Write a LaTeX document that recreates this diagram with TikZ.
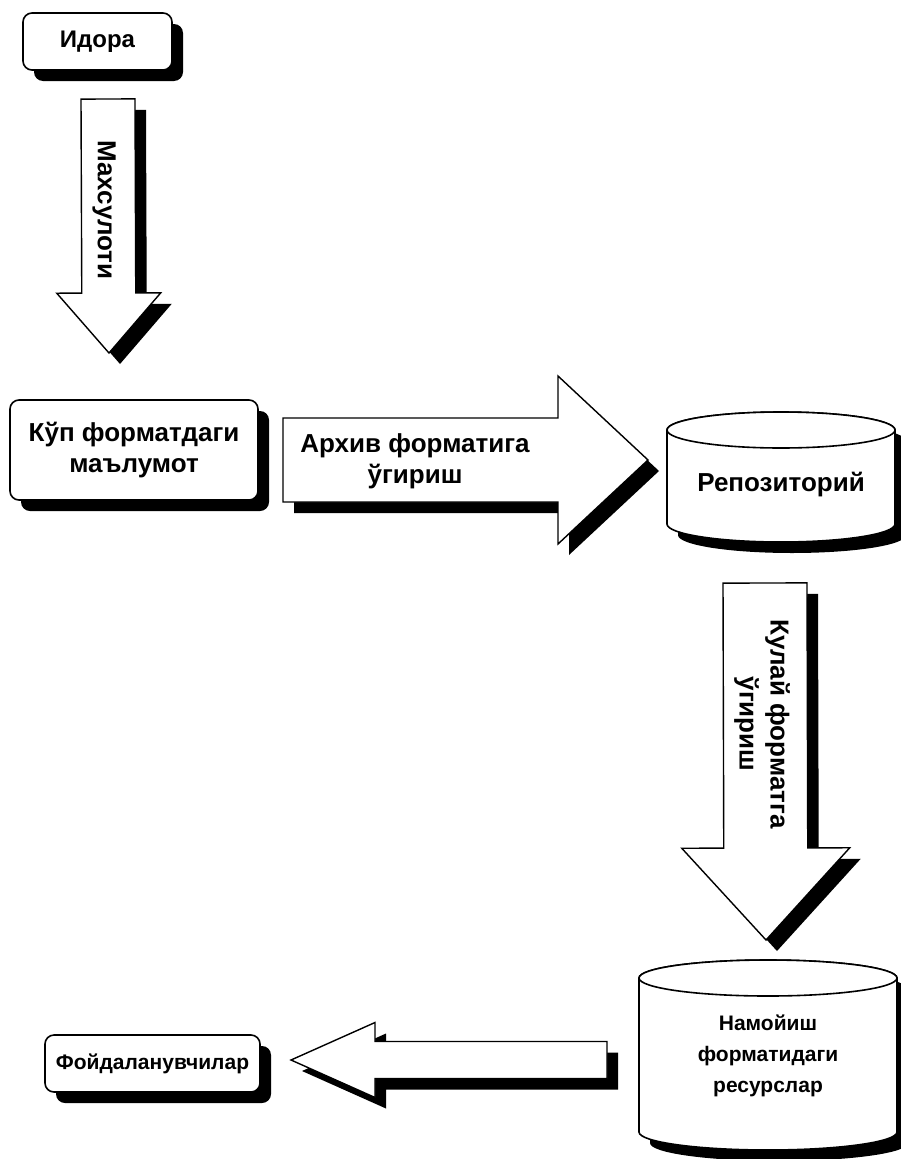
\documentclass[tikz,border=0pt]{standalone}
\usepackage{fontspec}
\setmainfont{Liberation Sans}
\usetikzlibrary{calc, shadows}

\newcommand{\blockarrow}[5]{%
  \coordinate (hb) at ($(#2)!#5!(#1)$);
  \draw[barrow] ($(#1)!#3!90:(#2)$) -- ($(hb)!#3!-90:(#1)$) -- ($(hb)!#4!-90:(#1)$) -- (#2)
    -- ($(hb)!#4!90:(#1)$) -- ($(hb)!#3!90:(#1)$) -- ($(#1)!#3!-90:(#2)$) -- cycle;}

\begin{document}
\begin{tikzpicture}[x=1pt, y=-1pt,
  shade/.style = {drop shadow={shadow xshift=11pt, shadow yshift=-11pt, opacity=1, fill=black}},
  box/.style = {draw, fill=white, line width=1.6pt, rounded corners=9pt, shade, align=center},
  barrow/.style = {draw, fill=white, line width=1.4pt, shade},
  db/.style = {draw, fill=white, line width=1.6pt},
  big/.style = {font=\bfseries\fontsize{26}{31}\selectfont, align=center},
  small/.style = {font=\bfseries\fontsize{21}{31}\selectfont, align=center}]
\path[use as bounding box, fill=white] (0,0) rectangle (901,1159);

\node[box, big, font=\bfseries\fontsize{24}{29}\selectfont, minimum width=149pt, minimum height=57pt] (idora) at (97.5,41.5) {Идора};
\node[box, big, minimum width=248pt, minimum height=100pt] (kup) at (134,450) {Кўп форматдаги\\маълумот};
\node[box, small, minimum width=215pt, minimum height=57pt] (users) at (152.5,1063.5) {Фойдаланувчилар};

\draw[db, shade] (667,430) -- (667,524) arc[start angle=180, end angle=0, x radius=114, y radius=18]
  -- (895,430) arc[start angle=0, end angle=-180, x radius=114, y radius=18] -- cycle;
\draw[db] (781,430) ellipse[x radius=114, y radius=18];
\node[big] (repo) at (781,485) {Репозиторий};

\draw[db, shade] (639,978) -- (639,1132) arc[start angle=180, end angle=0, x radius=129, y radius=18]
  -- (897,978) arc[start angle=0, end angle=-180, x radius=129, y radius=18] -- cycle;
\draw[db] (768,978) ellipse[x radius=129, y radius=18];
\node[small] (namo) at (768,1056) {Намойиш\\форматидаги\\ресурслар};

\coordinate (m0) at (108,99);   \coordinate (m1) at (109,353);
\coordinate (a0) at (283,460);  \coordinate (a1) at (648,460);
\coordinate (q0) at (765,583);  \coordinate (q1) at (766,940);
\coordinate (f0) at (607,1060); \coordinate (f1) at (291,1060);
\blockarrow{m0}{m1}{27pt}{52pt}{60pt}
\blockarrow{a0}{a1}{42pt}{84pt}{90pt}
\blockarrow{q0}{q1}{42pt}{84pt}{92pt}
\blockarrow{f0}{f1}{18.5pt}{37.5pt}{84pt}

\node[big, rotate=-90] (mahs) at (104,210) {Махсулоти};
\node[big] (arch) at (415,461) {Архив форматига\\ўгириш};
\node[big, rotate=-90] (qulay) at (762,724) {Кулай форматга\\ўгириш};
\end{tikzpicture}
\end{document}
